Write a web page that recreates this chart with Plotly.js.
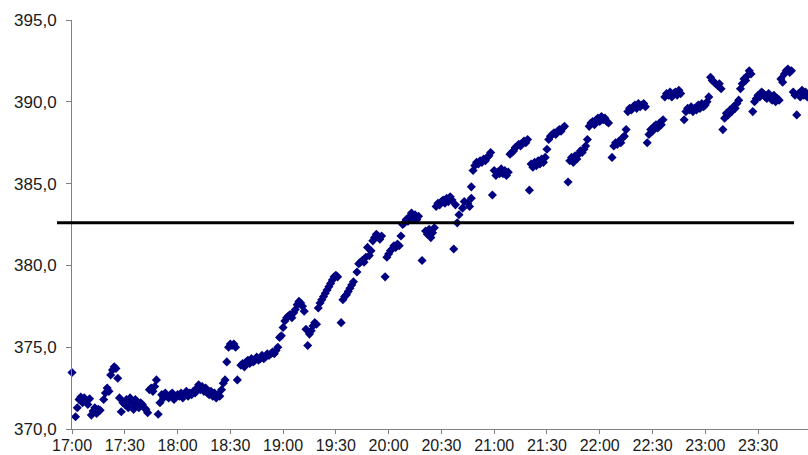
<!DOCTYPE html>
<html>
<head>
<meta charset="utf-8">
<script src="https://cdn.plot.ly/plotly-3.0.1.min.js"></script>
<style>html,body{margin:0;padding:0;background:#fff;overflow:hidden}#chart{width:808px;height:455px}</style>
</head>
<body>
<div id="chart"></div>
<script>
// Minutes within each hour and the readings at those minutes
const min17 = [0,2,3,4,5,6,7,8,9,10,11,12,13,14,15,16,18,19,20,21,22,23,24,25,26,27,28,29,30,31,32,33,34,35,36,37,38,39,40,41,42,43,44,45,46,47,48,49,50,51,52,53,54,55,56,57,58,59];
const val17 = [373.45,370.75,371.3,371.8,371.95,371.6,371.9,371.7,371.5,371.85,370.85,371.1,371.3,370.95,371.2,371.15,371.8,372.2,372.5,372.3,373.3,373.6,373.8,373.7,373.1,371.9,371.05,371.6,371.5,371.8,371.3,371.9,371.6,371.2,371.8,371.5,371.3,371.6,371.5,371.3,371.2,371.0,372.4,372.5,372.3,372.6,373.0,370.9,371.6,372.1,371.9,372.2,372.0,371.9,372.1,372.2,371.8,372.0];

const min18 = [0,1,2,3,4,5,6,7,8,9,10,11,12,13,14,15,16,17,18,19,20,21,22,23,24,25,26,27,28,29,30,31,32,33,34,36,37,38,39,40,41,42,43,44,45,46,47,48,49,50,51,52,53,54,55,56,57,58,59];
const val18 = [372.1,372.0,372.2,371.9,372.1,372.3,372.0,372.2,372.1,372.3,372.2,372.5,372.7,372.4,372.6,372.3,372.5,372.2,372.1,372.3,372.0,372.2,371.9,372.1,372.0,372.4,372.8,373.0,374.1,375.0,375.2,375.1,375.2,375.0,373.0,373.9,374.0,373.8,374.1,374.2,374.0,374.3,374.1,374.2,374.4,374.2,374.3,374.5,374.3,374.4,374.6,374.5,374.6,374.7,374.6,374.8,375.0,375.6,375.7];

const min19 = [0,1,2,3,4,5,6,7,8,9,10,11,12,13,14,15,16,17,18,19,20,21,22,23,24,25,26,27,28,29,30,31,33,34,35,36,37,38,39,40,42,43,44,45,46,47,48,49,50,51,52,53,54,55,56,58,59];
const val19 = [376.2,376.6,376.8,376.9,377.0,376.8,377.1,377.3,377.6,377.8,377.7,377.5,377.2,376.1,375.1,375.8,376.0,376.3,376.5,376.4,377.4,377.7,377.9,378.1,378.3,378.5,378.7,378.9,379.1,379.3,379.4,379.3,376.5,377.9,378.1,378.2,378.4,378.6,378.8,379.0,379.6,380.1,380.2,380.3,380.2,380.5,381.1,380.6,380.9,381.5,381.7,381.9,381.8,381.6,381.8,379.3,380.5];

const min20 = [0,1,2,3,4,5,6,7,8,9,10,11,12,13,14,15,16,17,19,21,22,23,24,25,26,27,28,29,30,31,32,33,34,35,36,37,38,39,40,42,43,45,46,47,47,48,49,50,51,52,53,54,55,56,57,58,59];
const val20 = [380.7,380.9,381.0,381.2,381.1,381.3,381.2,381.8,382.5,382.6,382.8,382.7,383.0,383.2,382.9,383.1,382.8,383.0,380.3,382.1,381.9,382.2,381.7,382.0,382.3,383.6,383.8,383.7,383.9,384.0,383.8,384.1,383.9,384.2,384.0,381.0,383.7,382.6,383.1,383.5,383.9,383.8,383.6,384.1,384.8,385.8,386.1,386.3,386.2,386.4,386.3,386.5,386.4,386.6,386.7,386.9,384.3];

const min21 = [0,1,2,3,4,5,6,7,8,9,10,11,12,13,14,15,16,17,18,19,20,21,22,23,24,25,26,27,28,29,30,31,32,33,34,35,36,37,38,39,40,42,43,44,45,46,47,48,49,50,51,52,53,54,55,56,57,58,59];
const val21 = [385.8,385.5,385.7,385.6,385.9,385.6,385.8,385.5,385.7,386.8,386.9,387.0,387.2,387.3,387.4,387.3,387.5,387.6,387.5,387.7,384.6,386.2,386.0,386.3,386.1,386.4,386.2,386.5,386.3,386.6,387.1,387.7,387.9,388.0,388.1,388.0,388.2,388.3,388.2,388.4,388.5,385.1,386.4,386.6,386.3,386.7,386.5,386.8,387.0,386.9,387.1,387.3,387.7,388.5,388.7,388.8,388.6,388.9,389.0];

const min22 = [0,1,2,3,4,5,7,8,9,10,11,12,13,14,15,16,17,18,19,20,21,22,23,24,25,26,27,28,29,30,31,32,33,34,35,36,37,38,39,40,41,42,43,44,45,46,48,49,50,51,52,53,54,55,56,57,58,59];
const val22 = [388.8,389.1,388.9,389.0,388.8,388.7,386.6,387.3,387.5,387.4,387.6,387.5,387.8,387.9,388.3,389.4,389.6,389.5,389.7,389.8,389.6,389.9,389.7,389.8,389.9,389.7,387.5,388.0,388.3,388.2,388.5,388.6,388.4,388.7,388.6,388.9,390.3,390.5,390.4,390.6,390.3,390.5,390.6,390.4,390.7,390.5,388.9,389.4,389.6,389.5,389.7,389.4,389.6,389.5,389.8,389.6,389.9,389.7];

const min23 = [0,1,2,3,4,5,6,7,8,9,10,11,12,13,14,15,16,17,18,19,20,21,22,23,24,25,26,27,28,29,30,31,32,33,34,35,36,37,38,39,40,41,42,43,44,45,46,47,48,49,50,51,52,53,54,55,56,57,58];
const val23 = [389.8,390.0,390.3,391.5,391.3,391.2,391.1,391.0,391.1,390.8,388.3,389.0,389.3,389.2,389.5,389.4,389.7,389.6,389.9,390.1,390.8,391.1,391.4,391.3,391.6,391.9,391.7,389.4,390.0,390.2,390.4,390.3,390.6,390.5,390.3,390.2,390.5,390.3,390.1,390.4,390.0,390.2,390.1,391.4,391.2,391.7,391.9,392.0,391.8,391.9,390.6,390.4,389.2,390.5,390.3,390.7,390.4,390.6,390.3];

const hours = [17,18,19,20,21,22,23];
const minuteLists = [min17,min18,min19,min20,min21,min22,min23];
const valueLists = [val17,val18,val19,val20,val21,val22,val23];

const referenceLevel = 382.6;

const yTicks = [370,375,380,385,390,395];

const pad = n => String(n).padStart(2,'0');
const xs = [], ys = [];
hours.forEach((h,i) => {
  minuteLists[i].forEach((m,j) => {
    xs.push('2000-01-01 ' + pad(h) + ':' + pad(m) + ':00');
    ys.push(valueLists[i][j]);
  });
});

const trace = {
  x: xs, y: ys, type: 'scatter', mode: 'markers',
  cliponaxis: false,
  marker: {symbol: 'diamond', size: 7, color: '#000080', line: {width: 0}},
  hoverinfo: 'skip', showlegend: false
};

const fontFam = 'Arimo, "Liberation Sans", Arial, sans-serif';
const layout = {
  width: 808, height: 455,
  margin: {l: 72, r: 0, t: 20, b: 26, pad: 0},
  paper_bgcolor: '#ffffff', plot_bgcolor: '#ffffff',
  separators: ', ',
  showlegend: false,
  xaxis: {
    type: 'date',
    range: ['2000-01-01 17:00:00', '2000-01-01 23:58:24'],
    tick0: '2000-01-01 17:00:00', dtick: 30*60*1000,
    tickformat: '%H:%M',
    ticks: 'outside', ticklen: 4, tickcolor: '#808080', tickwidth: 1,
    showline: true, linecolor: '#808080', linewidth: 1,
    showgrid: false, zeroline: false,
    ticklabelstandoff: -2,
    tickfont: {family: fontFam, size: 16, color: '#1a1a1a'}
  },
  yaxis: {
    range: [370, 395],
    tickvals: yTicks,
    tickformat: '.1f',
    ticks: 'outside', ticklen: 5, tickcolor: '#808080', tickwidth: 1,
    showline: true, linecolor: '#808080', linewidth: 1,
    showgrid: false, zeroline: false,
    ticklabelstandoff: 6,
    tickfont: {family: fontFam, size: 17, color: '#1a1a1a'}
  },
  shapes: [{
    type: 'line', xref: 'paper', yref: 'y',
    x0: -0.0204, x1: 0.981, y0: referenceLevel, y1: referenceLevel,
    line: {color: '#000000', width: 3}, layer: 'above'
  }]
};

Plotly.newPlot('chart', [trace], layout, {staticPlot: true, displayModeBar: false});
</script>
</body>
</html>
